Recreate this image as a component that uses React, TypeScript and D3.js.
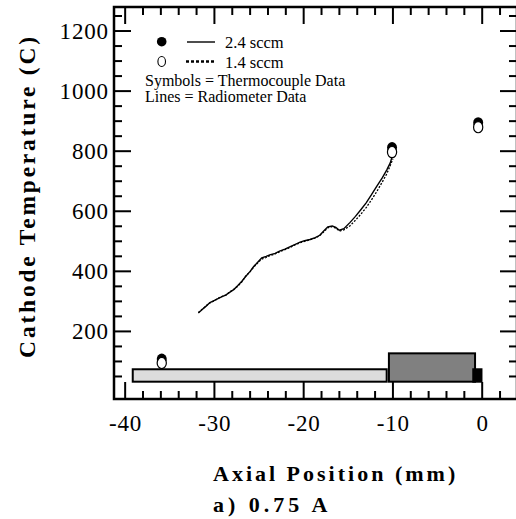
import React from "react";
import * as d3 from "d3";

const W = 516;
const H = 519;

// Axis settings
const xMajorTicks = [-40, -30, -20, -10, 0];
const xTickLabels = ["-40", "-30", "-20", "-10", "0"];
const yMajorTicks = [200, 400, 600, 800, 1000, 1200];
const yTickLabels = ["200", "400", "600", "800", "1000", "1200"];

// Radiometer trace, 2.4 sccm (solid)
const lineX24 = [-31.8, -31.4, -30.9, -30.5, -30.0, -29.6, -29.2, -28.7, -28.3, -27.8, -27.4, -26.9, -26.5, -26.0, -25.6, -25.1, -24.7, -24.2, -23.8, -23.2, -22.7, -22.1, -21.5, -21.0, -20.4, -19.9, -19.3, -18.7, -18.2, -17.7, -17.3, -16.8, -16.4, -16.0, -15.5, -14.8, -14.2, -13.6, -13.0, -12.4, -11.8, -11.2, -10.7, -10.3, -10.1];
const lineT24 = [261, 272, 285, 296, 303, 309, 315, 322, 330, 340, 352, 368, 383, 400, 416, 432, 445, 450, 455, 460, 467, 474, 482, 489, 497, 502, 506, 512, 520, 536, 548, 551, 546, 537, 542, 563, 583, 605, 628, 655, 684, 711, 737, 761, 781];

// Radiometer trace, 1.4 sccm (dashed)
const lineX14 = [-31.8, -31.4, -30.9, -30.5, -30.0, -29.6, -29.2, -28.7, -28.3, -27.8, -27.4, -26.9, -26.5, -26.0, -25.6, -25.1, -24.7, -24.2, -23.8, -23.2, -22.7, -22.1, -21.5, -21.0, -20.4, -19.9, -19.3, -18.7, -18.2, -17.7, -17.3, -16.8, -16.4, -16.0, -15.5, -14.8, -14.2, -13.6, -13.0, -12.4, -11.8, -11.2, -10.7, -10.3, -10.0];
const lineT14 = [263, 273, 286, 295, 302, 310, 316, 321, 331, 341, 350, 366, 384, 399, 414, 430, 441, 446, 452, 458, 465, 472, 480, 488, 495, 500, 505, 511, 519, 533, 545, 549, 544, 534, 538, 552, 570, 590, 612, 638, 666, 697, 724, 752, 775];

// Thermocouple data
const tcX24 = [-35.9, -10.1, -0.45];
const tcT24 = [108, 812, 895];
const tcX14 = [-35.9, -10.1, -0.45];
const tcT14 = [95, 797, 880];

// Cathode schematic (data units)
const schemNames = ["insert", "keeper", "tip"];
const schemX0 = [-39.15, -10.45, -1.0];
const schemX1 = [-10.7, -0.8, -0.08];
const schemT0 = [32.6, 32.6, 32.6];
const schemT1 = [74, 127, 74];
const schemFill = ["#dcdcdc", "#808080", "#000000"];

const legendLabels = ["2.4 sccm", "1.4 sccm"];
const noteLines = ["Symbols = Thermocouple Data", "Lines = Radiometer Data"];

const serif = "'Liberation Serif', 'Times New Roman', Times, serif";
const txt = { fontFamily: serif } as React.CSSProperties;

export default function App() {
  const left = 114, right = 517, top = 7, bottom = 399;
  const x = d3.scaleLinear().domain([-41.25, 3.9]).range([left, right]);
  const y = d3.scaleLinear().domain([-25, 1280]).range([bottom, top]);

  const xMinor = d3.range(-40, 4, 2).filter((v) => !xMajorTicks.includes(v));
  const yMinor = d3.range(50, 1280, 50).filter((v) => !yMajorTicks.includes(v));

  const line = d3
    .line<[number, number]>()
    .x((d) => x(d[0]))
    .y((d) => y(d[1]));

  const s24 = lineX24.map((v, i) => [v, lineT24[i]] as [number, number]);
  const s14 = lineX14.map((v, i) => [v, lineT14[i]] as [number, number]);

  const majL = 17, minL = 8;
  const tickLS = 0.8;

  return (
    <svg
      width={W}
      height={H}
      style={{ position: "fixed", left: 0, top: 0, background: "#fff" }}
    >
      <rect x={0} y={0} width={W} height={H} fill="#fff" />

      {/* schematic */}
      {schemNames.map((n, i) => (
        <rect
          key={n}
          x={x(schemX0[i])}
          y={y(schemT1[i])}
          width={x(schemX1[i]) - x(schemX0[i])}
          height={y(schemT0[i]) - y(schemT1[i])}
          fill={schemFill[i]}
          stroke="#000"
          strokeWidth={2}
        />
      ))}

      {/* traces */}
      <path d={line(s14) || ""} fill="none" stroke="#000" strokeWidth={1.3} strokeDasharray="2,1.5" />
      <path d={line(s24) || ""} fill="none" stroke="#000" strokeWidth={1.4} />

      {/* thermocouple symbols */}
      {tcX24.map((v, i) => (
        <ellipse key={"f" + i} cx={x(v)} cy={y(tcT24[i])} rx={5} ry={5.5} fill="#000" />
      ))}
      {tcX14.map((v, i) => (
        <ellipse key={"o" + i} cx={x(v)} cy={y(tcT14[i])} rx={4.6} ry={5.6} fill="#fff" stroke="#000" strokeWidth={1.2} />
      ))}

      {/* frame */}
      <rect x={left} y={top} width={right - left} height={bottom - top} fill="none" stroke="#000" strokeWidth={2.5} />

      {/* x ticks bottom/top */}
      {xMajorTicks.map((v) => (
        <g key={"xm" + v}>
          <line x1={x(v)} x2={x(v)} y1={bottom} y2={bottom - majL} stroke="#000" strokeWidth={2} />
          <line x1={x(v)} x2={x(v)} y1={top} y2={top + majL} stroke="#000" strokeWidth={2} />
        </g>
      ))}
      {xMinor.map((v) => (
        <g key={"xn" + v}>
          <line x1={x(v)} x2={x(v)} y1={bottom} y2={bottom - minL} stroke="#000" strokeWidth={2} />
          <line x1={x(v)} x2={x(v)} y1={top} y2={top + minL} stroke="#000" strokeWidth={2} />
        </g>
      ))}
      {/* y ticks left/right */}
      {yMajorTicks.map((v) => (
        <g key={"ym" + v}>
          <line x1={left} x2={left + majL} y1={y(v)} y2={y(v)} stroke="#000" strokeWidth={2} />
          <line x1={right} x2={right - majL} y1={y(v)} y2={y(v)} stroke="#000" strokeWidth={2} />
        </g>
      ))}
      {yMinor.map((v) => (
        <g key={"yn" + v}>
          <line x1={left} x2={left + minL} y1={y(v)} y2={y(v)} stroke="#000" strokeWidth={2} />
          <line x1={right} x2={right - minL} y1={y(v)} y2={y(v)} stroke="#000" strokeWidth={2} />
        </g>
      ))}

      {/* tick labels */}
      {xMajorTicks.map((v, i) => (
        <text key={"xl" + v} x={x(v) + tickLS / 2} y={431} textAnchor="middle" fontSize={23} letterSpacing={tickLS} style={txt}>
          {xTickLabels[i]}
        </text>
      ))}
      {yMajorTicks.map((v, i) => (
        <text key={"yl" + v} x={108 + tickLS} y={y(v) + 7.5} textAnchor="end" fontSize={23} letterSpacing={tickLS} style={txt}>
          {yTickLabels[i]}
        </text>
      ))}

      {/* axis titles */}
      <text
        transform="translate(35,196) rotate(-90)"
        textAnchor="middle"
        fontSize={23.5}
        fontWeight="bold"
        letterSpacing={2.8}
        style={txt}
      >
        Cathode Temperature (C)
      </text>
      <text x={213} y={481} fontSize={22} fontWeight="bold" letterSpacing={3} style={txt}>
        Axial Position (mm)
      </text>
      <text x={213} y={512} fontSize={22} fontWeight="bold" letterSpacing={4} style={txt}>
        a) 0.75 A
      </text>

      {/* legend */}
      <circle cx={161.7} cy={41.7} r={4.8} fill="#000" />
      <line x1={187} x2={215} y1={42} y2={42} stroke="#000" strokeWidth={1.4} />
      <text x={225} y={48} fontSize={16.5} style={txt}>{legendLabels[0]}</text>
      <ellipse cx={161.7} cy={61.5} rx={3.8} ry={5} fill="#fff" stroke="#000" strokeWidth={1.1} />
      <line x1={186} x2={215} y1={61.5} y2={61.5} stroke="#000" strokeWidth={2.5} strokeDasharray="3,2" />
      <text x={225} y={67.5} fontSize={16.5} style={txt}>{legendLabels[1]}</text>
      <text x={145} y={86} fontSize={16} style={txt}>{noteLines[0]}</text>
      <text x={145} y={102} fontSize={16} style={txt}>{noteLines[1]}</text>
    </svg>
  );
}
